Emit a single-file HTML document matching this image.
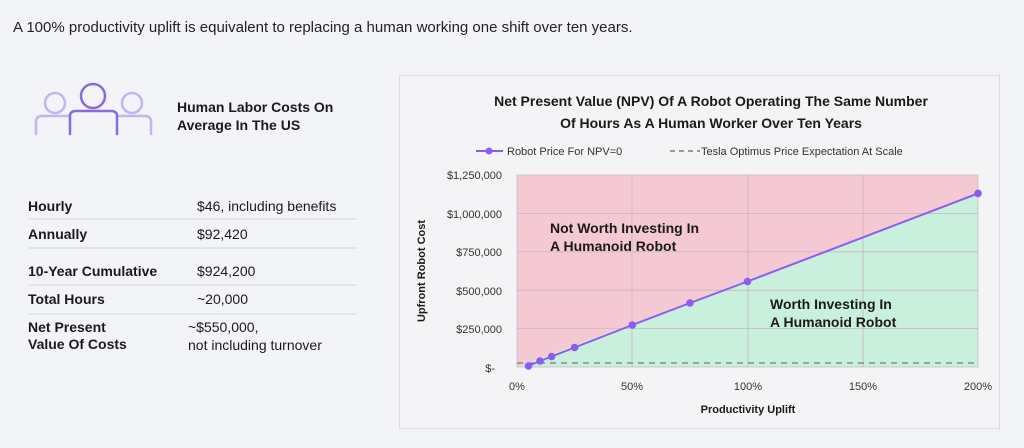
<!DOCTYPE html>
<html><head><meta charset="utf-8"><style>
html,body{margin:0;padding:0;background:#f3f4f7;}
svg{display:block;font-family:"Liberation Sans",sans-serif;}
</style></head><body>
<svg width="1024" height="448" viewBox="0 0 1024 448" xmlns="http://www.w3.org/2000/svg">
<rect width="1024" height="448" fill="#f3f4f7"/>
<text x="13" y="32" font-size="15" fill="#222">A 100% productivity uplift is equivalent to replacing a human working one shift over ten years.</text>
<!-- icon -->
<g fill="none" stroke-width="2.5" stroke-linecap="round">
<circle cx="55" cy="103" r="10" stroke="#c4b5f2"/>
<circle cx="132" cy="103" r="10" stroke="#c4b5f2"/>
<path d="M36 134 V122 Q36 116 42 116 H68" stroke="#c4b5f2"/>
<path d="M151 134 V122 Q151 116 145 116 H119" stroke="#c4b5f2"/>
<circle cx="93" cy="96" r="12" stroke="#8a6ae0"/>
<path d="M70 134 V116 Q70 111 76 111 H111 Q117 111 117 116 V134" stroke="#8a6ae0"/>
</g>
<text x="177" y="112" font-size="14" font-weight="bold" fill="#1a1a1a">Human Labor Costs On</text>
<text x="177" y="130" font-size="14" font-weight="bold" fill="#1a1a1a">Average In The US</text>
<g font-size="14" fill="#1a1a1a">
<text x="28" y="211" font-weight="bold">Hourly</text><text x="197" y="211">$46, including benefits</text>
<text x="28" y="239" font-weight="bold">Annually</text><text x="197" y="239">$92,420</text>
<text x="28" y="276" font-weight="bold">10-Year Cumulative</text><text x="197" y="276">$924,200</text>
<text x="28" y="304" font-weight="bold">Total Hours</text><text x="197" y="304">~20,000</text>
<text x="28" y="332" font-weight="bold">Net Present</text><text x="188" y="332">~$550,000,</text>
<text x="28" y="349" font-weight="bold">Value Of Costs</text><text x="188" y="350">not including turnover</text>
</g>
<g stroke="#d5d6da" stroke-width="1">
<line x1="28" y1="219" x2="357" y2="219"/><line x1="28" y1="248" x2="357" y2="248"/>
<line x1="28" y1="285" x2="357" y2="285"/><line x1="28" y1="314" x2="357" y2="314"/>
</g>
<!-- panel -->
<rect x="399.5" y="75.5" width="600" height="353" fill="#f4f4f6" stroke="#dcdce0"/>
<text x="711" y="106" font-size="14" font-weight="bold" text-anchor="middle" fill="#1a1a1a">Net Present Value (NPV) Of A Robot Operating The Same Number</text>
<text x="711" y="128" font-size="14" font-weight="bold" text-anchor="middle" fill="#1a1a1a">Of Hours As A Human Worker Over Ten Years</text>
<line x1="476" y1="151" x2="503" y2="151" stroke="#8b5cf0" stroke-width="2"/><circle cx="489" cy="151" r="3.5" fill="#8b5cf0"/>
<text x="507" y="155" font-size="11" fill="#333">Robot Price For NPV=0</text>
<line x1="670" y1="151" x2="700" y2="151" stroke="#666" stroke-width="1.3" stroke-dasharray="5,4"/>
<text x="701" y="155" font-size="11" fill="#333">Tesla Optimus Price Expectation At Scale</text>
<rect x="517" y="175" width="461" height="192" fill="#f4c9d3"/>
<polygon points="517,367 978,193.4 978,367" fill="#c9f0dd"/>
<g stroke="#c4b8bc" stroke-width="0.8">
<line x1="517" y1="213.4" x2="978" y2="213.4"/><line x1="517" y1="251.8" x2="978" y2="251.8"/>
<line x1="517" y1="290.2" x2="978" y2="290.2"/><line x1="517" y1="328.6" x2="978" y2="328.6"/>
<line x1="632" y1="175" x2="632" y2="367"/><line x1="748" y1="175" x2="748" y2="367"/><line x1="863" y1="175" x2="863" y2="367"/>
</g>
<rect x="517" y="175" width="461" height="192" fill="none" stroke="#c8c0c3" stroke-width="0.8"/>
<line x1="517" y1="363" x2="978" y2="363" stroke="#777" stroke-width="1.3" stroke-dasharray="6,5"/>
<polyline points="528.5,366 540,361 551.6,356.5 574.6,347.5 632.3,325 690,303 747.5,281.5 978,193.4" fill="none" stroke="#8b5cf0" stroke-width="2"/>
<g fill="#8b5cf0">
<circle cx="528.5" cy="366" r="3.8"/><circle cx="540" cy="361" r="3.8"/><circle cx="551.6" cy="356.5" r="3.8"/>
<circle cx="574.6" cy="347.5" r="3.8"/><circle cx="632.3" cy="325" r="3.8"/><circle cx="690" cy="303" r="3.8"/>
<circle cx="747.5" cy="281.5" r="3.8"/><circle cx="978" cy="193.4" r="3.8"/>
</g>
<g font-size="14" font-weight="bold" fill="#1a1a1a">
<text x="550" y="233">Not Worth Investing In</text><text x="550" y="251">A Humanoid Robot</text>
<text x="770" y="309">Worth Investing In</text><text x="770" y="327">A Humanoid Robot</text>
</g>
<g font-size="11" fill="#333" text-anchor="end">
<text x="502" y="179">$1,250,000</text><text x="502" y="218">$1,000,000</text><text x="502" y="256">$750,000</text>
<text x="502" y="295">$500,000</text><text x="502" y="333">$250,000</text><text x="495" y="372">$-</text>
</g>
<g font-size="11" fill="#333" text-anchor="middle">
<text x="517" y="390">0%</text><text x="632" y="390">50%</text><text x="748" y="390">100%</text><text x="863" y="390">150%</text><text x="978" y="390">200%</text>
</g>
<text x="748" y="413" font-size="11" font-weight="bold" text-anchor="middle" fill="#1a1a1a">Productivity Uplift</text>
<text transform="translate(425,271) rotate(-90)" font-size="11" font-weight="bold" text-anchor="middle" fill="#1a1a1a">Upfront Robot Cost</text>
</svg>
</body></html>
